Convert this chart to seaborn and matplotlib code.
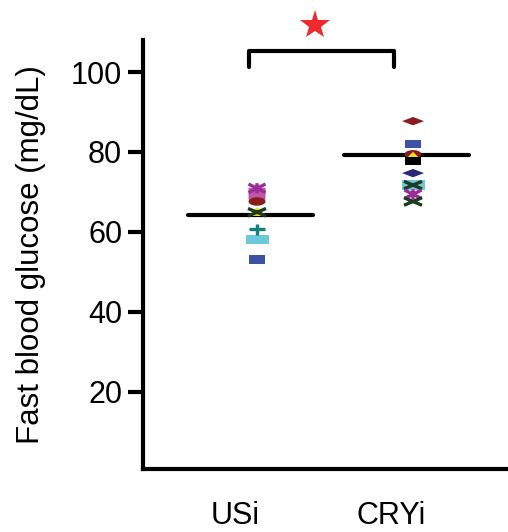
import numpy as np
import pandas as pd
import matplotlib
matplotlib.use('Agg')
import matplotlib.pyplot as plt
import matplotlib.transforms as mtransforms
from matplotlib.path import Path
import seaborn as sns

# Data
groups = ['USi', 'CRYi']
mean_values = [64.2, 79.2]

usi_values = [70.9, 69.2, 67.6, 65.1, 64.9, 60.6, 58.1, 53.1]
usi_keys = ['asterisk_purple', 'cyl_pink', 'ellipse_red', 'tri_yellow', 'x_green', 'plus_teal', 'rect_lightblue', 'rect_blue']

cryi_values = [87.7, 81.9, 79.4, 78.9, 77.7, 74.7, 71.7, 71.7, 69.4, 67.6]
cryi_keys = ['diamond_red', 'rect_blue', 'ellipse_red', 'tri_yellow', 'rect_black', 'diamond_navy', 'rect_lightblue', 'x_green', 'asterisk_purple', 'x_green']

y_ticks = [20, 40, 60, 80, 100]


# the markers in the reference are stretched sideways, so build flat shapes
def rect(r):
    return Path([(-1, -r), (1, -r), (1, r), (-1, r), (-1, -r)])


def diamond(r):
    return Path([(-1, 0), (0, -r), (1, 0), (0, r), (-1, 0)])


def ellipse(r):
    t = np.linspace(0, 2 * np.pi, 40)
    return Path(np.column_stack([np.cos(t), r * np.sin(t)]))


def cyl(r):
    return Path([(-1, -0.6 * r), (-1, r), (1, r), (1, -0.6 * r), (0, -r), (-1, -0.6 * r)])


def tri(r):
    return Path([(-1, -r), (1, -r), (0, r), (-1, -r)])


def lines(segs):
    verts, codes = [], []
    for a, b in segs:
        verts += [a, b]
        codes += [Path.MOVETO, Path.LINETO]
    return Path(verts, codes)


# key: (colour, marker path, line art?, width in px)
style_dict = {
    'asterisk_purple': ('#9b2c98', lines([((-1, -0.5), (1, 0.5)), ((-1, 0.5), (1, -0.5)), ((0, -0.6), (0, 0.6))]), True, 17),
    'x_green': ('#1c3b22', lines([((-1, -0.42), (1, 0.42)), ((-1, 0.42), (1, -0.42))]), True, 18),
    'plus_teal': ('#16807f', lines([((-1, 0), (1, 0)), ((0, -0.65), (0, 0.65))]), True, 16),
    'cyl_pink': ('#c156a8', cyl(0.85), False, 17),
    'ellipse_red': ('#8a1c20', ellipse(0.5), False, 17),
    'tri_yellow': ('#f2e21b', tri(0.5), False, 18),
    'rect_lightblue': ('#6cc8da', rect(0.4), False, 23),
    'rect_blue': ('#3d52a4', rect(0.52), False, 16),
    'rect_black': ('#000000', rect(0.5), False, 16),
    'diamond_red': ('#8a1c20', diamond(0.38), False, 22),
    'diamond_navy': ('#27287a', diamond(0.38), False, 22),
}

df = pd.DataFrame({
    'group': [groups[0]] * len(usi_values) + [groups[1]] * len(cryi_values),
    'value': usi_values + cryi_values,
    'key': usi_keys + cryi_keys,
})
df['pos'] = df['group'].map({g: i for i, g in enumerate(groups)})
df['line_art'] = df['key'].map(lambda k: style_dict[k][2])

sns.set_style('ticks')
plt.rcParams['font.family'] = ['Liberation Sans', 'DejaVu Sans']
plt.rcParams['text.color'] = 'black'
plt.rcParams['axes.labelcolor'] = 'black'
plt.rcParams['xtick.color'] = 'black'
plt.rcParams['ytick.color'] = 'black'

fig = plt.figure(figsize=(5.08, 5.32), dpi=100)
ax = fig.add_axes([0.2815, 0.118, 0.7185, 0.806])

# mean lines, slightly left of the points as in the reference
for i, m in enumerate(mean_values):
    ax.plot([i - 0.44, i + 0.36], [m, m], color='black', lw=3, zorder=1)

# filled markers first, line-art markers on top
px = 72 / fig.dpi
for line_art, lw, z in [(False, 0, 2), (True, 2.4, 3)]:
    sub = df[df['line_art'] == line_art]
    keys = list(dict.fromkeys(sub['key']))
    pal = {k: style_dict[k][0] for k in keys}
    mk = {k: style_dict[k][1] for k in keys}
    sz = {k: (style_dict[k][3] * px) ** 2 for k in keys}
    sns.scatterplot(data=sub, x='pos', y='value', hue='key', style='key', size='key',
                    palette=pal, markers=mk, sizes=sz, linewidth=lw, edgecolor='face',
                    legend=False, ax=ax, zorder=z)

ax.set_xlim(-0.731, 1.609)
ax.set_ylim(0.6, 107.9)
ax.set_yticks(y_ticks)
ax.set_xticks(range(len(groups)))
ax.set_xticklabels(groups)
ax.tick_params(axis='x', length=0, labelsize=22, pad=23)
ax.tick_params(axis='y', length=11, width=3, labelsize=22, pad=4)
offset = mtransforms.ScaledTranslation(-22 / 100, 0, fig.dpi_scale_trans)
for label in ax.get_xticklabels():
    label.set_transform(label.get_transform() + offset)

ax.set_xlabel('')
ax.set_ylabel('Fast blood glucose (mg/dL)', fontsize=22.5, labelpad=18)
for side in ['top', 'right']:
    ax.spines[side].set_visible(False)
for side in ['left', 'bottom']:
    ax.spines[side].set_linewidth(3)
    ax.spines[side].set_color('black')

# significance bracket and star
ax.plot([-0.05, -0.05, 0.88, 0.88], [101.3, 105.3, 105.3, 101.3], color='black', lw=3, clip_on=False)
ax.plot([0.37], [111.7], marker='*', color='#ee2a2f', markersize=22, markeredgewidth=0, clip_on=False)

fig.savefig('out.png', dpi=100)
